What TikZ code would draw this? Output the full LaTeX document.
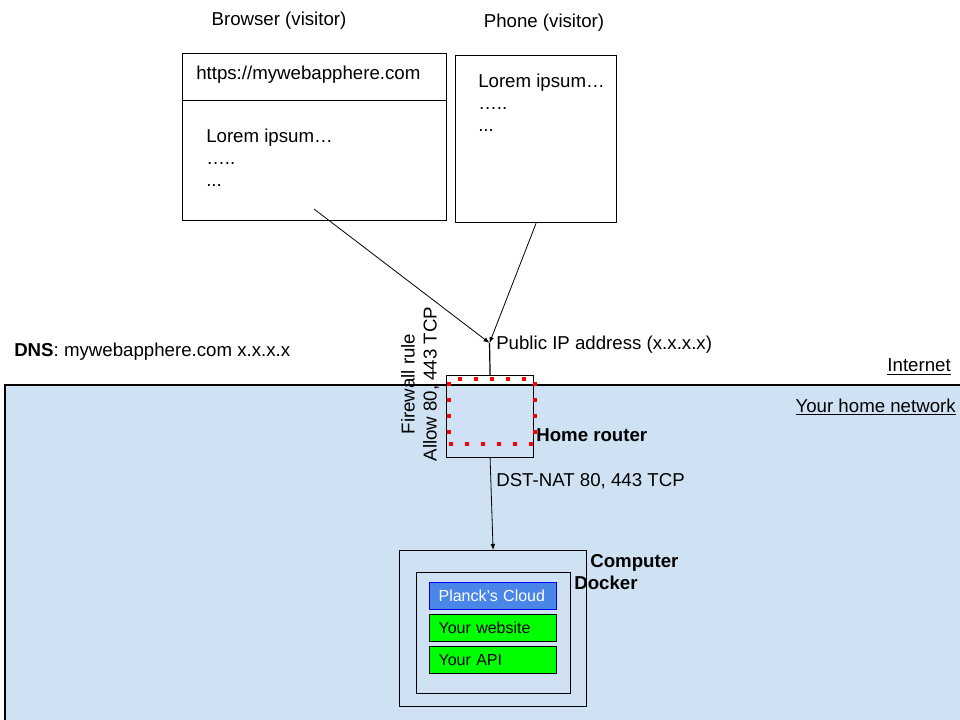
\documentclass[tikz,border=0pt]{standalone}
\usepackage{fontspec}
\setmainfont{Liberation Sans}
\usetikzlibrary{arrows.meta}
\definecolor{homeblue}{HTML}{CFE2F3}
\definecolor{cloudblue}{HTML}{4A86E8}
\definecolor{cloudedge}{HTML}{0000FF}
\definecolor{appgreen}{HTML}{00FF00}
\tikzset{
  box/.style={draw,line width=0.9pt,anchor=north west,inner sep=0pt},
  txt/.style={inner sep=0pt,font=\fontsize{14}{16.5}\selectfont},
  bold/.style={txt,font=\fontsize{14}{16.5}\selectfont\bfseries},
  item/.style={draw,line width=0.9pt,anchor=north west,inner xsep=6.75pt,inner ysep=0pt,
    text width=81.75pt,minimum height=20.25pt,align=left,font=\fontsize{12}{14}\selectfont},
  conn/.style={line width=0.6pt,-{Latex[length=4.5pt,width=3.5pt]}}
}
\begin{document}
\begin{tikzpicture}[x=0.75pt,y=-0.75pt]
            \clip (0,0) rectangle (960,720);
            % home network
            \fill[homeblue] (5,385) rectangle (970,730);
            \draw[line width=0.9pt] (5,730) -- (5,385) -- (970,385);
            \node(net)[txt,anchor=east] at (956,407){\underline{Your home network}};
            \node(inet)[txt,anchor=east] at (951,367){\underline{Internet}};
            \node(dns)[txt,anchor=west] at (14,352){\textbf{DNS}: mywebapphere.com x.x.x.x};
            % visitors
            \node(btitle)[txt] at (279,21){Browser (visitor)};
            \node(ptitle)[txt] at (544,23){Phone (visitor)};
            \node(url)[box,minimum width=198pt,minimum height=35.25pt] at (182,53){};
            \node(page)[box,minimum width=198pt,minimum height=90pt] at (182,100){};
            \node(urltext)[txt,anchor=west] at (196,75){https://mywebapphere.com};
            \node(pagetext)[txt,anchor=north west,align=left] at (206,129){Lorem ipsum…\\…..\\...};
            \node(phone)[box,minimum width=120.75pt,minimum height=125.25pt] at (455,55){};
            \node(phonetext)[txt,anchor=north west,align=left] at (478,74){Lorem ipsum…\\…..\\...};
            \coordinate(bout) at (314,209);
            \coordinate(ip) at (489.5,343);
            % router
            \node(router)[box,minimum width=65.25pt,minimum height=61.5pt] at (446,375){};
            \node(fw)[box,draw=red,line width=3pt,dash pattern=on 3pt off 9pt,minimum width=64.5pt,minimum height=48.75pt] at (447,377){};
            \node(iptext)[txt,anchor=west] at (496,345){Public IP address (x.x.x.x)};
            \node(rtext)[bold,anchor=west] at (536,435){Home router};
            \node(fwtext)[txt,rotate=90,align=center] at (420,384){Firewall rule\\Allow 80, 443 TCP};
            \node(nat)[txt,anchor=west] at (496,481){DST-NAT 80, 443 TCP};
            % computer
            \node(computer)[box,minimum width=140.25pt,minimum height=117pt] at (399,550){};
            \node(docker)[box,minimum width=115.5pt,minimum height=90.75pt] at (416,572){};
            \node(ctext)[bold,anchor=west] at (590,563){Computer};
            \node(dtext)[bold,anchor=west] at (574,583){Docker};
            \node(cloud)[item,fill=cloudblue,draw=cloudedge,text=white] at (429,582){Planck’s Cloud};
            \node(web)[item,fill=appgreen] at (429,614){Your website};
            \node(api)[item,fill=appgreen] at (429,646){Your API};
            % connectors
            \draw[conn] (bout) -- (ip);
            \draw[conn] (phone.south) -- (ip);
            \draw[line width=0.9pt] (ip) -- (router.north);
            \draw[conn] (router.south) -- (computer.north);
        \end{tikzpicture}
\end{document}
